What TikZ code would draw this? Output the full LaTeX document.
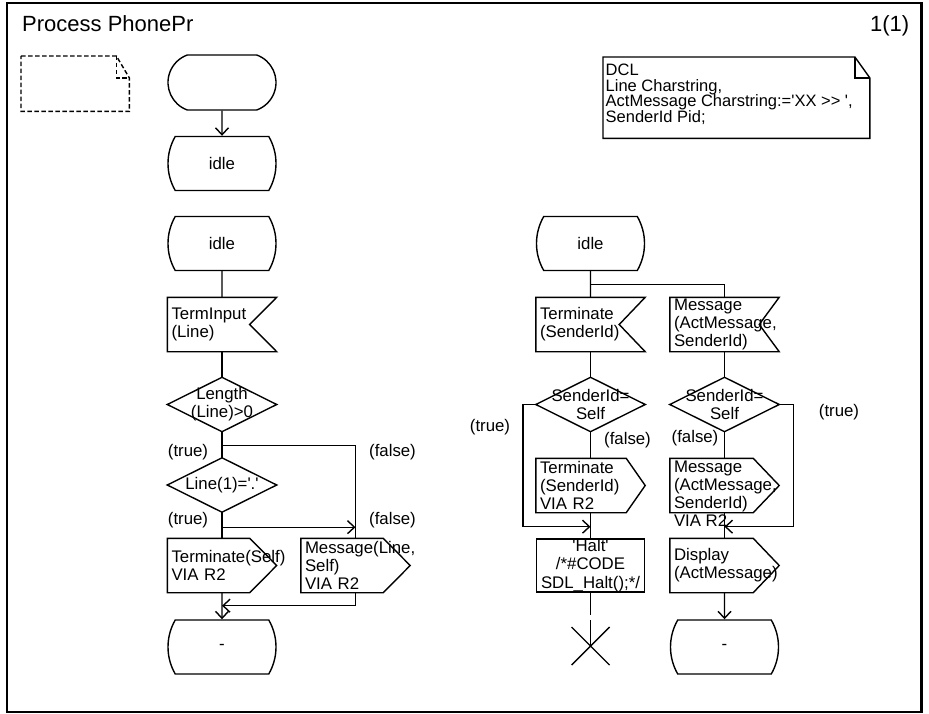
\documentclass[tikz,border=0pt]{standalone}
\usepackage{fontspec}
\setmainfont{Liberation Sans}[Ligatures=TeXOff]
\usetikzlibrary{shapes.misc,arrows.meta,calc}

\begin{document}
\begin{tikzpicture}[x=1pt,y=-1pt,line width=1.4pt,
    sym/.style={minimum width=108pt,minimum height=53pt,inner sep=0pt,align=center,
      font=\fontsize{16.8}{18.3}\selectfont},
    lft/.style={sym,text width=101pt,inner xsep=3.5pt,align=left},
    statesym/.style={sym,draw,minimum height=54pt,rounded rectangle,rounded rectangle arc length=60},
    lbl/.style={inner sep=0pt,font=\fontsize{16.8}{18.3}\selectfont},
    arr/.style={-{Straight Barb[length=7pt,width=13pt]}}]
    \useasboundingbox (0,0) rectangle (929,714);
    \draw[line width=2.2pt] (7,3) rectangle (921.5,712);
    \node[anchor=base west,inner sep=0pt,font=\fontsize{22}{26}\selectfont] (title) at (21.5,31.5) {Process PhonePr};
    \node[anchor=base east,inner sep=0pt,font=\fontsize{22}{26}\selectfont] (page) at (910,31.5) {1(1)};

    % text symbols
    \node[anchor=north west,minimum width=107pt,minimum height=54pt,inner sep=0pt] (note) at (21,56) {};
    \draw[dashed,dash pattern=on 4.5pt off 2.5pt] (note.north west) -- ($(note.north east)+(-13,0)$) -- ($(note.north east)+(0,22)$) -- (note.south east) -- (note.south west) -- cycle;
    \draw[dashed,dash pattern=on 4.5pt off 2.5pt] ($(note.north east)+(-13,0)$) -- ++(0,22) -- ++(13,0);
    \node[anchor=north west,minimum width=265.5pt,minimum height=80pt,inner sep=0pt] (dcl) at (603,57) {};
    \draw (dcl.north west) -- ($(dcl.north east)+(-15,0)$) -- ($(dcl.north east)+(0,21)$) -- (dcl.south east) -- (dcl.south west) -- cycle;
    \draw ($(dcl.north east)+(-15,0)$) -- ++(0,21) -- ++(15,0);
    \node[anchor=north west,align=left,inner sep=0pt,font=\fontsize{16.5}{15.6}\selectfont] (dcltxt) at (605,63.5)
      {DCL\\Line Charstring,\\ActMessage Charstring:='XX >> ',\\SenderId Pid;};

    % start transition
    \node[draw,rounded rectangle,rounded rectangle arc length=140,minimum width=108pt,minimum height=55pt,inner sep=0pt] (start) at (222,82.5) {};
    \node[statesym] (idle0) at (222,163.5) {idle};
    \draw[arr] (start) -- (idle0);

    % TermInput transition
    \node[statesym] (idle1) at (222,243.5) {idle};
    \node[lft] (in1) at (222,324.5) {TermInput\\(Line)};
    \node[sym] (dec1) at (222,404.5) {Length\\(Line)>0};
    \node[sym] (dec2) at (222,485) {Line(1)='.'};
    \node[lft] (out1) at (222,565.5) {Terminate(Self)\\VIA R2};
    \node[lft] (out2) at (355.5,565.5) {Message(Line,\\Self)\\VIA R2};
    \node[statesym] (dash1) at (222,647) {-};

    % Terminate and Message transitions
    \node[statesym] (idle2) at (590.5,243.5) {idle};
    \node[lft] (in2) at (590.5,324.5) {Terminate\\(SenderId)};
    \node[sym] (dec3) at (590.5,404.5) {SenderId=\\Self};
    \node[lft] (out3) at (590.5,485.5) {Terminate\\(SenderId)\\VIA R2};
    \node[sym,draw] (halt) at (590.5,565.5) {'Halt'\\/*\#CODE\\SDL\_Halt();*/};
    \coordinate (stop) at (590.5,646);
    \node[lft] (in3) at (724.5,324.5) {Message\\(ActMessage,\\SenderId)};
    \node[sym] (dec4) at (724.5,404.5) {SenderId=\\Self};
    \node[sym] (out4) at (724.5,485.5) {};
    \node[anchor=north west,align=left,inner sep=0pt,font=\fontsize{16.8}{18.3}\selectfont] (out4txt) at ($(out4.north west)+(3.5,1.5)$)
      {Message\\(ActMessage,\\SenderId)\\VIA R2};
    \node[lft] (out5) at (724.5,565.5) {Display\\(ActMessage)};
    \node[statesym] (dash2) at (724.5,647) {-};

    % symbol outlines
    \foreach \n/\d in {in1/27,in2/26,in3/20}
      \draw (\n.north west) -- (\n.north east) -- ($(\n.east)+(-\d,0)$) -- (\n.south east) -- (\n.south west) -- cycle;
    \foreach \n/\d in {out1/27,out2/27,out3/19,out4/26,out5/26}
      \draw (\n.north west) -- ($(\n.north east)+(-\d,0)$) -- (\n.east) -- ($(\n.south east)+(-\d,0)$) -- (\n.south west) -- cycle;
    \foreach \n in {dec1,dec2,dec3,dec4}
      \draw (\n.north) -- (\n.east) -- (\n.south) -- (\n.west) -- cycle;
    \draw (stop) +(-19,-19) -- +(19,19) (stop) +(19,-19) -- +(-19,19);

    % flow lines
    \draw (idle1) -- (in1);
    \draw (in1) -- (dec1);
    \draw (dec1) -- (dec2);
    \draw ($(dec1.south)+(0,14)$) -| (out2.north);
    \coordinate (j1) at ($(dec2.south)+(0,15)$);
    \draw[arr] (j1) -- (j1 -| out2.north);
    \draw (dec2) -- (out1);
    \draw[arr] (out1) -- (dash1);
    \draw[arr] (out2.south) |- ($(out1.south)+(0,13)$);

    \draw (idle2) -- (in2);
    \draw ($(idle2.south)+(0,13.5)$) -| (in3.north);
    \draw (in2) -- (dec3);
    \draw (dec3) -- (out3);
    \draw (out3) -- (halt);
    \draw[arr] (dec3.west) -- ++(-13,0) |- ($(out3.south)+(0,14)$);
    \draw (halt.south) -- ++(0,22);
    \draw ($(stop)+(0,-26)$) -- (stop);

    \draw (in3) -- (dec4);
    \draw (dec4) -- (out4);
    \draw[arr] (dec4.east) -- ++(14.5,0) |- ($(out4.south)+(0,14)$);
    \draw (out4) -- (out5);
    \draw[arr] (out5) -- (dash2);

    % branch labels
    \node[lbl] (t1) at (188,452) {(true)};
    \node[lbl] (f1) at (392.5,452) {(false)};
    \node[lbl] (t2) at (188,520) {(true)};
    \node[lbl] (f2) at (392.5,520) {(false)};
    \node[lbl] (t3) at (490,427) {(true)};
    \node[lbl] (f3) at (627.5,440) {(false)};
    \node[lbl] (t4) at (839,412) {(true)};
    \node[lbl] (f4) at (695,438) {(false)};
\end{tikzpicture}
\end{document}
